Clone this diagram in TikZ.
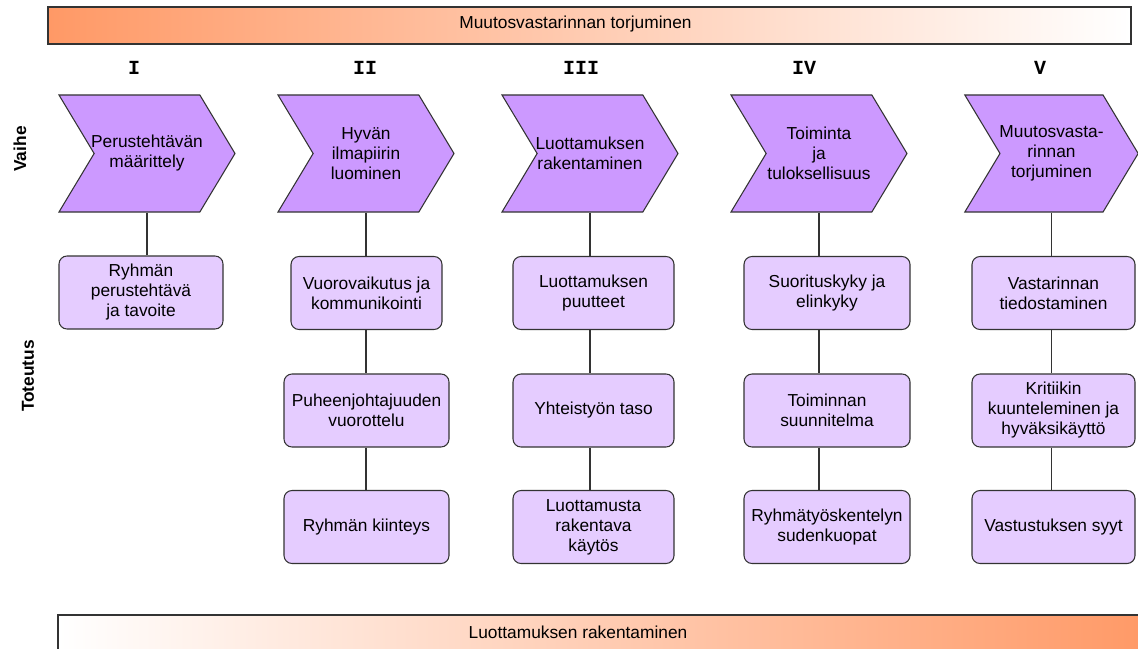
\documentclass[tikz,border=0pt]{standalone}
\definecolor{PhaseViolet}{RGB}{204,153,255}
\definecolor{TaskLilac}{RGB}{229,204,255}
\definecolor{BarOrange}{RGB}{255,153,102}
\definecolor{EdgeGray}{RGB}{51,51,51}
\usepackage{fontspec}
\setmainfont{Liberation Sans}
\setmonofont{Liberation Mono}
\usepackage{tikz}
\usetikzlibrary{positioning,shapes.symbols}

\begin{document}
\begin{tikzpicture}[
    x=0.75pt, y=-0.75pt,
    font=\fontsize{13}{15}\selectfont,
    phase/.style={signal, signal from=west, signal to=east, signal pointer angle=118,
        draw=EdgeGray, line width=0.8pt, fill=PhaseViolet, minimum width=132pt,
        minimum height=87.75pt, align=center, inner xsep=-8pt, inner ysep=0pt},
    task/.style={draw=EdgeGray, line width=0.8pt, fill=TaskLilac, rounded corners=6pt,
        minimum height=54.75pt, align=center, inner sep=2pt},
    bar/.style={draw=EdgeGray, line width=1.2pt, minimum height=27.75pt},
    num/.style={font=\ttfamily\bfseries\fontsize{15}{15}\selectfont},
    side/.style={font=\bfseries\fontsize{13}{15}\selectfont, rotate=90},
    link/.style={EdgeGray, line width=0.8pt}
]
    \useasboundingbox (0,0) rectangle (1138,649);

    % bars
    \node[bar, minimum width=812.25pt, left color=BarOrange, right color=white] (topbar) at (589.5,25.5) {};
    \node (toptext) at (575.5,24) {Muutosvastarinnan torjuminen};
    \node[bar, minimum width=819pt, minimum height=33.75pt, left color=white, right color=BarOrange] (botbar) at (604,637.5) {};
    \node (bottext) at (578,632) {Luottamuksen rakentaminen};

    \node[side] (vaihe) at (20,149) {Vaihe};
    \node[side] (toteutus) at (28,376) {Toteutus};

    % phases
    \node[num] (n1) at (134,68) {I};
    \node[num] (n2) at (365,68) {II};
    \node[num] (n3) at (581,68) {III};
    \node[num] (n4) at (804,68) {IV};
    \node[num] (n5) at (1040,68) {V};

    \node[phase] (c1) at (147,153.5) {Perustehtävän\\määrittely};
    \node[phase] (c2) at (366,153.5) {Hyvän\\ilmapiirin\\luominen};
    \node[phase] (c3) at (590,153.5) {Luottamuksen\\rakentaminen};
    \node[phase] (c4) at (819,153.5) {Toiminta\\ja\\tuloksellisuus};
    \node[phase, minimum width=130pt] (c5) at (1051.5,153.5) {Muutosvasta-\\rinnan\\torjuminen};

    % tasks
    \node[task, minimum width=123pt] (b11) at (141,292.5) {Ryhmän\\perustehtävä\\ja tavoite};

    \node[task, minimum width=113.25pt] (b21) at (366.5,293) {Vuorovaikutus ja\\kommunikointi};
    \node[task, minimum width=123.75pt] (b22) at (366.5,410.5) {Puheenjohtajuuden\\vuorottelu};
    \node[task, minimum width=123.75pt] (b23) at (366.5,527) {Ryhmän kiinteys};

    \node[task, minimum width=120.75pt] (b31) at (593.5,293) {Luottamuksen\\puutteet};
    \node[task, minimum width=120.75pt] (b32) at (593.5,410.5) {Yhteistyön taso};
    \node[task, minimum width=120.75pt] (b33) at (593.5,527) {Luottamusta\\rakentava\\käytös};

    \node[task, minimum width=124.5pt] (b41) at (827,293) {Suorituskyky ja\\elinkyky};
    \node[task, minimum width=124.5pt] (b42) at (827,410.5) {Toiminnan\\suunnitelma};
    \node[task, minimum width=124.5pt] (b43) at (827,527) {Ryhmätyöskentelyn\\sudenkuopat};

    \node[task, minimum width=122.25pt] (b51) at (1053.5,293) {Vastarinnan\\tiedostaminen};
    \node[task, minimum width=122.25pt] (b52) at (1053.5,410.5) {Kritiikin\\kuunteleminen ja\\hyväksikäyttö};
    \node[task, minimum width=122.25pt] (b53) at (1053.5,527) {Vastustuksen syyt};

    % links
    \foreach \c in {1,...,5}
        \draw[link] (c\c.south) -- (c\c.south |- b\c1.north);
    \foreach \c in {2,...,5}{
        \draw[link] (b\c1.south -| c\c) -- (b\c2.north -| c\c);
        \draw[link] (b\c2.south -| c\c) -- (b\c3.north -| c\c);
    }
\end{tikzpicture}
\end{document}
